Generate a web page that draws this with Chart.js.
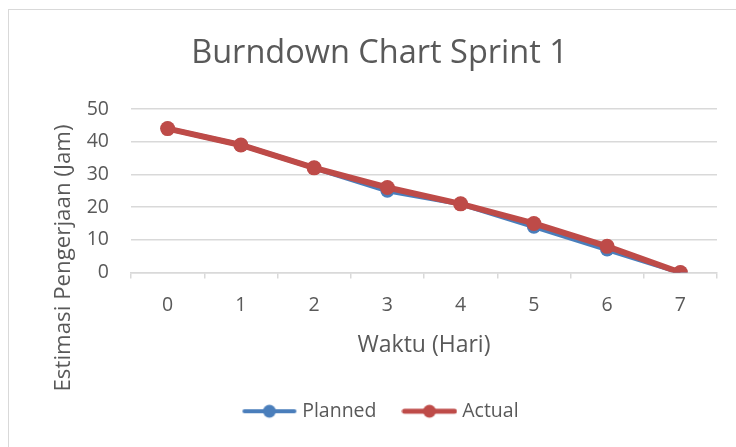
<!DOCTYPE html>
<html>
<head>
<meta charset="utf-8">
<script src="https://cdn.jsdelivr.net/npm/chart.js@4.4.1/dist/chart.umd.min.js"></script>
<style>
  html, body { margin: 0; padding: 0; background: #fff; }
  #wrap { position: relative; width: 736px; height: 447px; overflow: hidden; }
  #frame { position: absolute; left: 8px; top: 9px; width: 760px; height: 480px; border: 1px solid #d9d9d9; box-sizing: border-box; }
  #burndown { position: absolute; left: 0; top: 0; }
</style>
</head>
<body>
<div id="wrap">
  <div id="frame"></div>
  <canvas id="burndown" width="736" height="447"></canvas>
</div>
<script>
const hari = ['0', '1', '2', '3', '4', '5', '6', '7'];
const planned = [44, 39, 32, 25, 21, 14, 7, 0];
const actual = [44, 39, 32, 26, 21, 15, 8, 0];
const yTicks = [0, 10, 20, 30, 40, 50];

const FONT = "'Open Sans', 'Noto Sans', sans-serif";
const TEXT = '#595959';
const GRID = '#d9d9d9';
const BLUE = '#4a7ebb';
const RED = '#be4b48';

// legend sample: line with a dot in the middle, like excel
function legendIcon(color, lw) {
   const c = document.createElement('canvas');
   c.width = 56; c.height = 16;
   const g = c.getContext('2d');
   g.strokeStyle = color;
   g.lineWidth = lw;
   g.lineCap = 'round';
   g.beginPath();
   g.moveTo(3, 8); g.lineTo(53, 8);
   g.stroke();
   g.fillStyle = color;
   g.beginPath();
   g.arc(28, 8, 6.5, 0, Math.PI * 2);
   g.fill();
   return c;
}

const yTitlePlugin = {
   id: 'yTitle',
   afterLayout(chart) {
      // excel centres title and legend a bit to the right
      chart.titleBlock.left += 21; chart.titleBlock.right += 21;
      chart.legend.left += 24; chart.legend.right += 24;
   },
   afterDraw(chart) {
      const ctx = chart.ctx;
      ctx.save();
      ctx.translate(64, 258);
      ctx.rotate(-Math.PI / 2);
      ctx.font = '22.3px ' + FONT;
      ctx.fillStyle = TEXT;
      ctx.textAlign = 'center';
      ctx.textBaseline = 'middle';
      ctx.fillText('Estimasi Pengerjaan (Jam)', 0, 0);
      ctx.restore();
   }
};

const dataLine = {
   labels: hari,
   datasets: [
      {
         label: 'Planned',
         data: planned,
         borderColor: BLUE,
         backgroundColor: BLUE,
         borderWidth: 5,
         pointRadius: 7,
         pointBorderWidth: 0,
         pointBackgroundColor: BLUE,
         tension: 0,
         order: 1,
      },
      {
         label: 'Actual',
         data: actual,
         borderColor: RED,
         backgroundColor: RED,
         borderWidth: 6,
         pointRadius: 7.5,
         pointBorderWidth: 0,
         pointBackgroundColor: RED,
         tension: 0,
         order: 0,
      }
   ]
};

const configLine = {
   type: 'line',
   data: dataLine,
   options: {
      responsive: false,
      animation: false,
      layout: { padding: { left: 0, right: 19, top: 0, bottom: 16 } },
      plugins: {
         tooltip: { enabled: false },
         title: {
            display: true,
            text: 'Burndown Chart Sprint 1',
            color: TEXT,
            font: { family: FONT, size: 32.5, weight: 'normal' },
            padding: { top: 34, bottom: 36 },
         },
         legend: {
            position: 'bottom',
            labels: {
               color: TEXT,
               font: { family: FONT, size: 19.5 },
               usePointStyle: true,
               pointStyleWidth: 46,
               padding: 30,
               generateLabels(chart) {
                  return chart.data.datasets.map((ds, i) => ({
                     text: ds.label,
                     fontColor: TEXT,
                     pointStyle: legendIcon(ds.borderColor, ds.borderWidth - 1),
                     datasetIndex: i,
                     hidden: false,
                     lineWidth: 0,
                  }));
               }
            }
         }
      },
      scales: {
         x: {
            offset: true,
            grid: {
               offset: true,
               drawOnChartArea: false,
               drawTicks: true,
               tickLength: 6,
               color: GRID,
               lineWidth: 1.5,
            },
            border: { color: GRID, width: 1.5 },
            ticks: { color: TEXT, font: { family: FONT, size: 19.5 }, padding: 15 },
            title: {
               display: true,
               text: 'Waktu (Hari)',
               color: TEXT,
               font: { family: FONT, size: 23 },
               padding: { top: 0, bottom: 12 },
            }
         },
         y: {
            min: 0,
            max: 50,
            afterBuildTicks(scale) {
               scale.ticks = yTicks.map(v => ({ value: v }));
            },
            afterFit(scale) { scale.width = 131; },
            grid: { color: GRID, lineWidth: 1.5, drawTicks: false },
            border: { display: false },
            ticks: { color: TEXT, font: { family: FONT, size: 19.5 }, padding: 22 },
         }
      }
   },
   plugins: [yTitlePlugin]
};

const burndown = new Chart(document.getElementById('burndown'), configLine);
</script>
</body>
</html>
